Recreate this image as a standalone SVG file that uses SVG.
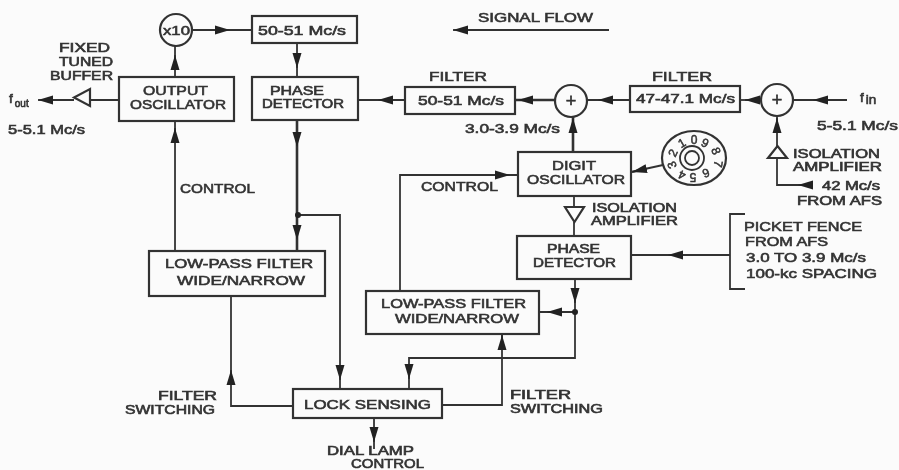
<svg xmlns="http://www.w3.org/2000/svg" width="899" height="470" viewBox="0 0 899 470">
<style>
.b{fill:none;stroke:#333;stroke-width:2.200}
.c{fill:none;stroke:#333;stroke-width:1.800;marker-end:url(#a)}
.p{fill:none;stroke:#333;stroke-width:1.800}
.h{stroke-width:2.600}
.t{font-family:"Liberation Sans",Arial,sans-serif;font-size:13.500px;fill:#333;stroke:#333;stroke-width:.6}
.n{font-size:12px}
.d{font-family:"Liberation Sans",Arial,sans-serif;font-size:12px;fill:#333;stroke:#333;stroke-width:.5;text-anchor:middle}
.s{font-size:10px}
.m{font-size:18px;text-anchor:middle}
</style>
<defs>
<marker id="a" markerUnits="userSpaceOnUse" markerWidth="16" markerHeight="10" refX="15" refY="5" orient="auto"><path d="M0 .5L15 5L0 9.500Z" fill="#222"/></marker>
<filter id="blur" x="0" y="0" width="100%" height="100%"><feGaussianBlur stdDeviation="0.45"/></filter>
</defs>
<rect width="899" height="470" fill="#fbfbfb"/>
<g filter="url(#blur)">
<g id="connectors">
<path class="p" d="M609 30H465"/><path class="c" d="M468 30H453"/>
<path class="p" d="M119 100H90M74 100H50"/><path class="c" d="M53 100H38"/>
<path class="p" d="M175 77V46"/><path class="c" d="M175 70V55"/>
<path class="p" d="M192 30H252"/><path class="c" d="M215 30H230"/>
<path class="p" d="M297 43V77"/><path class="c" d="M297 53V68"/>
<path class="p" d="M405 100H358"/><path class="c" d="M393 100H378"/>
<path class="p h" d="M297 120V251"/><path class="c" d="M297 132V147"/><path class="c" d="M297 225V240"/>
<path class="p" d="M298 215H340V389"/><path class="c" d="M340 365V380"/>
<path class="p" d="M175 251V121"/><path class="c" d="M175 143V128"/>
<path class="p" d="M293 406H231V296"/><path class="c" d="M231 385V370"/>
<path class="p" d="M442 405H502V334"/><path class="c" d="M502 350V335"/>
<path class="p" d="M575 279V358H409V389"/><path class="c" d="M575 288V303"/><path class="c" d="M409 364V379"/>
<path class="p" d="M575 312H539"/><path class="c" d="M562 312H547"/>
<path class="p" d="M400 291V175H518"/><path class="c" d="M495 175H510"/>
<path class="p" d="M374 418V449"/><path class="c" d="M374 427V442"/>
<path class="p h" d="M555 100H515"/><path class="c" d="M533 100H518"/>
<path class="p" d="M630 100H587"/><path class="c" d="M613 100H598"/>
<path class="p" d="M761 100H740"/><path class="c" d="M760 100H745"/>
<path class="p" d="M847 100H793"/><path class="c" d="M828 100H813"/>
<path class="p h" d="M573 152V117"/><path class="c" d="M573 133V118"/>
<path class="p" d="M777 146V116"/><path class="c" d="M777 133V118"/>
<path class="p" d="M777 158V185H813"/><path class="c" d="M813 185H798"/>
<path class="p" d="M663 165L631 172"/><path class="c" d="M647 168.500L632 172"/>
<path class="p" d="M574 196V207M574 222V236"/>
<path class="p" d="M730 255H631"/><path class="c" d="M683 255H668"/>
<path class="p" d="M745 214H730V289H745"/>
</g>
<g id="buffer"><path class="b" d="M90 89V106L74 97.500Z"/></g>
<g id="iso-digit"><path class="b" d="M565 207H584L574.500 222Z"/></g>
<g id="iso-in"><path class="b" d="M768 158H787L777.500 146Z"/></g>
<g id="x10"><circle class="b" cx="176" cy="30" r="16"/><text class="t" x="163" y="35" textLength="27" lengthAdjust="spacingAndGlyphs">x10</text></g>
<g id="box-50-51-top"><rect class="b" x="252" y="16" width="105" height="27"/><text class="t" x="258" y="35" textLength="88" lengthAdjust="spacingAndGlyphs">50-51 Mc/s</text></g>
<g id="output-osc"><rect class="b" x="119" y="77" width="115" height="44"/><text class="t" x="143" y="95" textLength="65" lengthAdjust="spacingAndGlyphs">OUTPUT</text><text class="t" x="130" y="109" textLength="96" lengthAdjust="spacingAndGlyphs">OSCILLATOR</text></g>
<g id="phase-det-1"><rect class="b" x="252" y="77" width="106" height="43"/><text class="t n" x="270" y="95" textLength="54" lengthAdjust="spacingAndGlyphs">PHASE</text><text class="t n" x="262" y="108" textLength="82" lengthAdjust="spacingAndGlyphs">DETECTOR</text></g>
<g id="filter-50-51"><rect class="b" x="405" y="87" width="110" height="27"/><text class="t" x="418" y="105" textLength="86" lengthAdjust="spacingAndGlyphs">50-51 Mc/s</text></g>
<g id="mix-1"><circle class="b" cx="571" cy="101" r="16"/><text class="t m" x="571" y="107">+</text></g>
<g id="filter-47"><rect class="b" x="630" y="86" width="110" height="26"/><text class="t" x="636" y="103" textLength="99" lengthAdjust="spacingAndGlyphs">47-47.1 Mc/s</text></g>
<g id="mix-2"><circle class="b" cx="777" cy="100" r="16"/><text class="t m" x="777" y="106">+</text></g>
<g id="digit-osc"><rect class="b" x="518" y="152" width="113" height="44"/><text class="t" x="552" y="170" textLength="44" lengthAdjust="spacingAndGlyphs">DIGIT</text><text class="t" x="527" y="184" textLength="98" lengthAdjust="spacingAndGlyphs">OSCILLATOR</text></g>
<g id="dial"><ellipse class="b" cx="694" cy="158" rx="32" ry="27"/><circle class="p" cx="692" cy="158" r="12"/><circle class="p" cx="692" cy="158" r="7"/>
<text class="d" y="4" transform="translate(682 143) rotate(-30)">1</text>
<text class="d" y="4" transform="translate(694 140)">0</text>
<text class="d" y="4" transform="translate(705 143) rotate(25)">9</text>
<text class="d" y="4" transform="translate(716 151) rotate(70)">8</text>
<text class="d" y="4" transform="translate(718 164) rotate(100)">7</text>
<text class="d" y="4" transform="translate(706 173) rotate(160)">6</text>
<text class="d" y="4" transform="translate(693 177) rotate(180)">5</text>
<text class="d" y="4" transform="translate(682 175) rotate(205)">4</text>
<text class="d" y="4" transform="translate(672 165) rotate(250)">3</text>
<text class="d" y="4" transform="translate(673 153) rotate(295)">2</text></g>
<g id="phase-det-2"><rect class="b" x="517" y="236" width="114" height="43"/><text class="t n" x="547" y="253" textLength="53" lengthAdjust="spacingAndGlyphs">PHASE</text><text class="t n" x="533" y="267" textLength="83" lengthAdjust="spacingAndGlyphs">DETECTOR</text></g>
<g id="lpf-1"><rect class="b" x="149" y="251" width="176" height="45"/><text class="t" x="165" y="268" textLength="148" lengthAdjust="spacingAndGlyphs">LOW-PASS FILTER</text><text class="t" x="177" y="285" textLength="128" lengthAdjust="spacingAndGlyphs">WIDE/NARROW</text></g>
<g id="lpf-2"><rect class="b" x="366" y="291" width="173" height="43"/><text class="t" x="381" y="308" textLength="145" lengthAdjust="spacingAndGlyphs">LOW-PASS FILTER</text><text class="t" x="395" y="323" textLength="124" lengthAdjust="spacingAndGlyphs">WIDE/NARROW</text></g>
<g id="lock-sensing"><rect class="b" x="293" y="389" width="149" height="29"/><text class="t" x="304" y="409" textLength="127" lengthAdjust="spacingAndGlyphs">LOCK SENSING</text></g>
<g id="junctions"><circle cx="298" cy="215" r="3" fill="#222"/><circle cx="575" cy="312" r="3" fill="#222"/></g>
<g id="labels">
<text class="t" x="478" y="22" textLength="115" lengthAdjust="spacingAndGlyphs">SIGNAL FLOW</text>
<text class="t n" x="59" y="52" textLength="51" lengthAdjust="spacingAndGlyphs">FIXED</text>
<text class="t n" x="59" y="66" textLength="54" lengthAdjust="spacingAndGlyphs">TUNED</text>
<text class="t n" x="50" y="80" textLength="63" lengthAdjust="spacingAndGlyphs">BUFFER</text>
<text class="t" x="9" y="103">f<tspan class="s" dy="4" dx="2">out</tspan></text>
<text class="t" x="8" y="134" textLength="77" lengthAdjust="spacingAndGlyphs">5-5.1 Mc/s</text>
<text class="t" x="429" y="81" textLength="58" lengthAdjust="spacingAndGlyphs">FILTER</text>
<text class="t" x="652" y="81" textLength="60" lengthAdjust="spacingAndGlyphs">FILTER</text>
<text class="t" x="860" y="102">f<tspan dy="2" dx="2">in</tspan></text>
<text class="t" x="817" y="130" textLength="81" lengthAdjust="spacingAndGlyphs">5-5.1 Mc/s</text>
<text class="t n" x="793" y="158" textLength="87" lengthAdjust="spacingAndGlyphs">ISOLATION</text>
<text class="t n" x="793" y="171" textLength="89" lengthAdjust="spacingAndGlyphs">AMPLIFIER</text>
<text class="t n" x="822" y="190" textLength="58" lengthAdjust="spacingAndGlyphs">42 Mc/s</text>
<text class="t n" x="797" y="205" textLength="85" lengthAdjust="spacingAndGlyphs">FROM AFS</text>
<text class="t" x="465" y="133" textLength="95" lengthAdjust="spacingAndGlyphs">3.0-3.9 Mc/s</text>
<text class="t" x="421" y="191" textLength="77" lengthAdjust="spacingAndGlyphs">CONTROL</text>
<text class="t" x="180" y="193" textLength="75" lengthAdjust="spacingAndGlyphs">CONTROL</text>
<text class="t n" x="592" y="212" textLength="85" lengthAdjust="spacingAndGlyphs">ISOLATION</text>
<text class="t n" x="591" y="225" textLength="87" lengthAdjust="spacingAndGlyphs">AMPLIFIER</text>
<text class="t" x="744" y="231" textLength="118" lengthAdjust="spacingAndGlyphs">PICKET FENCE</text>
<text class="t" x="745" y="246" textLength="83" lengthAdjust="spacingAndGlyphs">FROM AFS</text>
<text class="t" x="746" y="262" textLength="120" lengthAdjust="spacingAndGlyphs">3.0 TO 3.9 Mc/s</text>
<text class="t" x="746" y="278" textLength="131" lengthAdjust="spacingAndGlyphs">100-kc SPACING</text>
<text class="t n" x="158" y="400" textLength="59" lengthAdjust="spacingAndGlyphs">FILTER</text>
<text class="t n" x="125" y="414" textLength="90" lengthAdjust="spacingAndGlyphs">SWITCHING</text>
<text class="t n" x="510" y="399" textLength="61" lengthAdjust="spacingAndGlyphs">FILTER</text>
<text class="t n" x="510" y="413" textLength="93" lengthAdjust="spacingAndGlyphs">SWITCHING</text>
<text class="t n" x="327" y="455" textLength="87" lengthAdjust="spacingAndGlyphs">DIAL LAMP</text>
<text class="t n" x="351" y="468" textLength="73" lengthAdjust="spacingAndGlyphs">CONTROL</text>
</g>
</g>
</svg>
